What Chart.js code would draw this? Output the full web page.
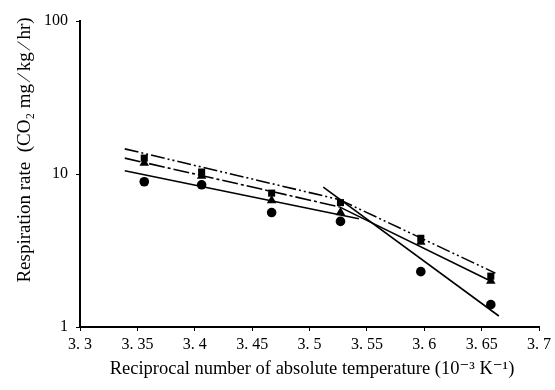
<!DOCTYPE html>
<html>
<head>
<meta charset="utf-8">
<script src="https://cdn.jsdelivr.net/npm/chart.js@4"></script>
<style>
  body { margin: 0; background: #fff; }
</style>
</head>
<body>
<canvas id="respChart" width="555" height="390"></canvas>
<script>
// measured points (x = 1/T, 10^-3 K^-1)
const tempX = [3.356, 3.406, 3.467, 3.527, 3.597, 3.658];
const squareRate = [12.7, 10.3, 7.5, 6.5, 3.8, 2.15];
const triangleRate = [11.8, 9.7, 6.7, 5.6, 3.6, 2.0];
const circleRate = [8.9, 8.5, 5.6, 4.9, 2.3, 1.4];

// fitted lines, two segments per series
const squareFitX1 = [3.339, 3.526];
const squareFitY1 = [14.6, 6.8];
const squareFitX2 = [3.526, 3.662];
const squareFitY2 = [6.8, 2.25];
const triFitX1 = [3.339, 3.526];
const triFitY1 = [12.7, 6.1];
const triFitX2 = [3.526, 3.656];
const triFitY2 = [6.1, 2.03];
const circFitX1 = [3.339, 3.543];
const circFitY1 = [10.5, 5.1];
const circFitX2 = [3.512, 3.665];
const circFitY2 = [8.2, 1.18];

const xTickValues = [3.3, 3.35, 3.4, 3.45, 3.5, 3.55, 3.6, 3.65, 3.7];
const xTickLabels = ['3. 3', '3. 35', '3. 4', '3. 45', '3. 5', '3. 55', '3. 6', '3. 65', '3. 7'];
const yTickValues = [1, 10, 100];
const yTickLabels = ['1', '10', '100'];

const pts = (xs, ys) => xs.map((x, i) => ({ x: x, y: ys[i] }));

const lineSet = (xs, ys, dash) => ({
  data: pts(xs, ys),
  showLine: true,
  borderColor: '#000',
  borderWidth: 1.6,
  borderDash: dash,
  pointRadius: 0,
  fill: false,
});

const markerSet = (ys, style, r) => ({
  data: pts(tempX, ys),
  showLine: false,
  pointStyle: style,
  pointRadius: r,
  backgroundColor: '#000',
  borderColor: '#000',
  borderWidth: 0,
});

const serif = '"Liberation Serif", "DejaVu Serif", serif';

// axis titles drawn at fixed spots like the scan
const titlePlugin = {
  id: 'titles',
  afterDraw(chart) {
    const ctx = chart.ctx;
    ctx.save();
    ctx.fillStyle = '#000';
    ctx.font = '18.5px ' + serif;
    ctx.textAlign = 'center';
    ctx.textBaseline = 'middle';
    ctx.fillText('Reciprocal number of absolute temperature (10\u207B\u00B3 K\u207B\u00B9)', 312, 369);
    ctx.font = '19px ' + serif;
    ctx.translate(25, 150);
    ctx.rotate(-Math.PI / 2);
    ctx.fillText('Respiration rate  (CO\u2082 mg \u2215 kg \u2215 hr)', 0, 0);
    ctx.restore();
  }
};

new Chart(document.getElementById('respChart'), {
  type: 'scatter',
  data: {
    datasets: [
      lineSet(squareFitX1, squareFitY1, [14, 3, 2, 3, 2, 3]),
      lineSet(squareFitX2, squareFitY2, [14, 3, 2, 3, 2, 3]),
      lineSet(triFitX1, triFitY1, [16, 3, 3, 3]),
      lineSet(triFitX2, triFitY2, []),
      lineSet(circFitX1, circFitY1, []),
      lineSet(circFitX2, circFitY2, []),
      markerSet(circleRate, 'circle', 4.8),
      markerSet(triangleRate, 'triangle', 5.5),
      markerSet(squareRate, 'rect', 5),
    ]
  },
  options: {
    responsive: false,
    devicePixelRatio: 1,
    animation: false,
    layout: { padding: { top: 21, right: 15, left: 0, bottom: 0 } },
    plugins: {
      legend: { display: false },
      tooltip: { enabled: false },
    },
    scales: {
      x: {
        type: 'linear',
        min: 3.3,
        max: 3.7,
        afterBuildTicks: (s) => { s.ticks = xTickValues.map(v => ({ value: v })); },
        afterFit: (s) => { s.height = 63; },
        ticks: {
          color: '#000',
          padding: 4,
          maxRotation: 0,
          font: { family: serif, size: 16 },
          callback: (v) => xTickLabels[xTickValues.indexOf(v)] ?? '',
        },
        grid: { drawOnChartArea: false, color: '#000', tickLength: 4 },
        border: { color: '#000', width: 2 },
      },
      y: {
        type: 'logarithmic',
        min: 1,
        max: 100,
        afterBuildTicks: (s) => { s.ticks = yTickValues.map(v => ({ value: v })); },
        afterFit: (s) => { s.width = 80; },
        ticks: {
          color: '#000',
          padding: 8,
          font: { family: serif, size: 16 },
          callback: (v) => yTickLabels[yTickValues.indexOf(v)] ?? '',
        },
        grid: { drawOnChartArea: false, color: '#000', tickLength: 4 },
        border: { color: '#000', width: 2 },
      },
    },
  },
  plugins: [titlePlugin],
});
</script>
</body>
</html>
